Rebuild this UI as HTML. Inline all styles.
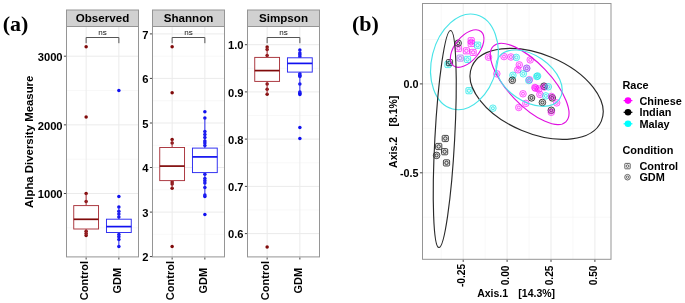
<!DOCTYPE html>
<html><head><meta charset="utf-8"><style>
html,body{margin:0;padding:0;background:#fff;width:685px;height:303px;overflow:hidden}
svg{display:block;will-change:transform}
</style></head><body>
<svg width="685" height="303" viewBox="0 0 685 303">
<rect width="685" height="303" fill="#fff"/>
<text x="2.8" y="31.0" font-family='"Liberation Serif", serif' font-size="22" font-weight="bold" text-anchor="start" fill="#000">(a)</text>
<text x="33.4" y="141.8" font-family='"Liberation Sans", sans-serif' font-size="11.4" font-weight="bold" text-anchor="middle" fill="#000" transform="rotate(-90 33.4 141.8)">Alpha Diversity Measure</text>
<rect x="66.5" y="26.5" width="72.0" height="230.39999999999998" fill="#fff"/>
<line x1="66.5" y1="227.8" x2="138.5" y2="227.8" stroke="#f3f3f3" stroke-width="0.6"/>
<line x1="66.5" y1="159.2" x2="138.5" y2="159.2" stroke="#f3f3f3" stroke-width="0.6"/>
<line x1="66.5" y1="90.5" x2="138.5" y2="90.5" stroke="#f3f3f3" stroke-width="0.6"/>
<line x1="66.5" y1="193.5" x2="138.5" y2="193.5" stroke="#ebebeb" stroke-width="1"/>
<line x1="66.5" y1="124.85" x2="138.5" y2="124.85" stroke="#ebebeb" stroke-width="1"/>
<line x1="66.5" y1="56.2" x2="138.5" y2="56.2" stroke="#ebebeb" stroke-width="1"/>
<line x1="86.13636363636363" y1="26.5" x2="86.13636363636363" y2="256.9" stroke="#ebebeb" stroke-width="1"/>
<line x1="118.86363636363636" y1="26.5" x2="118.86363636363636" y2="256.9" stroke="#ebebeb" stroke-width="1"/>
<line x1="63.9" y1="193.5" x2="66.5" y2="193.5" stroke="#444" stroke-width="1"/>
<text x="62.6" y="198.2" font-family='"Liberation Sans", sans-serif' font-size="11.2" font-weight="bold" text-anchor="end" fill="#000">1000</text>
<line x1="63.9" y1="124.85" x2="66.5" y2="124.85" stroke="#444" stroke-width="1"/>
<text x="62.6" y="129.54999999999998" font-family='"Liberation Sans", sans-serif' font-size="11.2" font-weight="bold" text-anchor="end" fill="#000">2000</text>
<line x1="63.9" y1="56.2" x2="66.5" y2="56.2" stroke="#444" stroke-width="1"/>
<text x="62.6" y="60.900000000000006" font-family='"Liberation Sans", sans-serif' font-size="11.2" font-weight="bold" text-anchor="end" fill="#000">3000</text>
<line x1="86.13636363636363" y1="257.4" x2="86.13636363636363" y2="259.5" stroke="#444" stroke-width="1"/>
<text x="87.93636363636362" y="280.6" font-family='"Liberation Sans", sans-serif' font-size="11" font-weight="bold" text-anchor="middle" fill="#000" transform="rotate(-90 87.93636363636362 280.6)">Control</text>
<line x1="118.86363636363636" y1="257.4" x2="118.86363636363636" y2="259.5" stroke="#444" stroke-width="1"/>
<text x="120.66363636363636" y="280.6" font-family='"Liberation Sans", sans-serif' font-size="11" font-weight="bold" text-anchor="middle" fill="#000" transform="rotate(-90 120.66363636363636 280.6)">GDM</text>
<rect x="152.5" y="26.5" width="72.0" height="230.39999999999998" fill="#fff"/>
<line x1="152.5" y1="234.3" x2="224.5" y2="234.3" stroke="#f3f3f3" stroke-width="0.6"/>
<line x1="152.5" y1="189.8" x2="224.5" y2="189.8" stroke="#f3f3f3" stroke-width="0.6"/>
<line x1="152.5" y1="145.3" x2="224.5" y2="145.3" stroke="#f3f3f3" stroke-width="0.6"/>
<line x1="152.5" y1="100.7" x2="224.5" y2="100.7" stroke="#f3f3f3" stroke-width="0.6"/>
<line x1="152.5" y1="56.2" x2="224.5" y2="56.2" stroke="#f3f3f3" stroke-width="0.6"/>
<line x1="152.5" y1="212.1" x2="224.5" y2="212.1" stroke="#ebebeb" stroke-width="1"/>
<line x1="152.5" y1="167.5" x2="224.5" y2="167.5" stroke="#ebebeb" stroke-width="1"/>
<line x1="152.5" y1="123.0" x2="224.5" y2="123.0" stroke="#ebebeb" stroke-width="1"/>
<line x1="152.5" y1="78.4" x2="224.5" y2="78.4" stroke="#ebebeb" stroke-width="1"/>
<line x1="152.5" y1="33.9" x2="224.5" y2="33.9" stroke="#ebebeb" stroke-width="1"/>
<line x1="172.13636363636363" y1="26.5" x2="172.13636363636363" y2="256.9" stroke="#ebebeb" stroke-width="1"/>
<line x1="204.86363636363637" y1="26.5" x2="204.86363636363637" y2="256.9" stroke="#ebebeb" stroke-width="1"/>
<line x1="149.9" y1="256.6" x2="152.5" y2="256.6" stroke="#444" stroke-width="1"/>
<text x="148.6" y="261.3" font-family='"Liberation Sans", sans-serif' font-size="11.2" font-weight="bold" text-anchor="end" fill="#000">2</text>
<line x1="149.9" y1="212.1" x2="152.5" y2="212.1" stroke="#444" stroke-width="1"/>
<text x="148.6" y="216.79999999999998" font-family='"Liberation Sans", sans-serif' font-size="11.2" font-weight="bold" text-anchor="end" fill="#000">3</text>
<line x1="149.9" y1="167.5" x2="152.5" y2="167.5" stroke="#444" stroke-width="1"/>
<text x="148.6" y="172.2" font-family='"Liberation Sans", sans-serif' font-size="11.2" font-weight="bold" text-anchor="end" fill="#000">4</text>
<line x1="149.9" y1="123.0" x2="152.5" y2="123.0" stroke="#444" stroke-width="1"/>
<text x="148.6" y="127.7" font-family='"Liberation Sans", sans-serif' font-size="11.2" font-weight="bold" text-anchor="end" fill="#000">5</text>
<line x1="149.9" y1="78.4" x2="152.5" y2="78.4" stroke="#444" stroke-width="1"/>
<text x="148.6" y="83.10000000000001" font-family='"Liberation Sans", sans-serif' font-size="11.2" font-weight="bold" text-anchor="end" fill="#000">6</text>
<line x1="149.9" y1="33.9" x2="152.5" y2="33.9" stroke="#444" stroke-width="1"/>
<text x="148.6" y="38.6" font-family='"Liberation Sans", sans-serif' font-size="11.2" font-weight="bold" text-anchor="end" fill="#000">7</text>
<line x1="172.13636363636363" y1="257.4" x2="172.13636363636363" y2="259.5" stroke="#444" stroke-width="1"/>
<text x="173.93636363636364" y="280.6" font-family='"Liberation Sans", sans-serif' font-size="11" font-weight="bold" text-anchor="middle" fill="#000" transform="rotate(-90 173.93636363636364 280.6)">Control</text>
<line x1="204.86363636363637" y1="257.4" x2="204.86363636363637" y2="259.5" stroke="#444" stroke-width="1"/>
<text x="206.66363636363639" y="280.6" font-family='"Liberation Sans", sans-serif' font-size="11" font-weight="bold" text-anchor="middle" fill="#000" transform="rotate(-90 206.66363636363639 280.6)">GDM</text>
<rect x="247.5" y="26.5" width="72.0" height="230.39999999999998" fill="#fff"/>
<line x1="247.5" y1="210.0" x2="319.5" y2="210.0" stroke="#f3f3f3" stroke-width="0.6"/>
<line x1="247.5" y1="162.8" x2="319.5" y2="162.8" stroke="#f3f3f3" stroke-width="0.6"/>
<line x1="247.5" y1="115.5" x2="319.5" y2="115.5" stroke="#f3f3f3" stroke-width="0.6"/>
<line x1="247.5" y1="68.3" x2="319.5" y2="68.3" stroke="#f3f3f3" stroke-width="0.6"/>
<line x1="247.5" y1="233.6" x2="319.5" y2="233.6" stroke="#ebebeb" stroke-width="1"/>
<line x1="247.5" y1="186.4" x2="319.5" y2="186.4" stroke="#ebebeb" stroke-width="1"/>
<line x1="247.5" y1="139.1" x2="319.5" y2="139.1" stroke="#ebebeb" stroke-width="1"/>
<line x1="247.5" y1="91.9" x2="319.5" y2="91.9" stroke="#ebebeb" stroke-width="1"/>
<line x1="247.5" y1="44.7" x2="319.5" y2="44.7" stroke="#ebebeb" stroke-width="1"/>
<line x1="267.1363636363636" y1="26.5" x2="267.1363636363636" y2="256.9" stroke="#ebebeb" stroke-width="1"/>
<line x1="299.8636363636364" y1="26.5" x2="299.8636363636364" y2="256.9" stroke="#ebebeb" stroke-width="1"/>
<line x1="244.9" y1="233.6" x2="247.5" y2="233.6" stroke="#444" stroke-width="1"/>
<text x="243.6" y="238.29999999999998" font-family='"Liberation Sans", sans-serif' font-size="11.2" font-weight="bold" text-anchor="end" fill="#000">0.6</text>
<line x1="244.9" y1="186.4" x2="247.5" y2="186.4" stroke="#444" stroke-width="1"/>
<text x="243.6" y="191.1" font-family='"Liberation Sans", sans-serif' font-size="11.2" font-weight="bold" text-anchor="end" fill="#000">0.7</text>
<line x1="244.9" y1="139.1" x2="247.5" y2="139.1" stroke="#444" stroke-width="1"/>
<text x="243.6" y="143.79999999999998" font-family='"Liberation Sans", sans-serif' font-size="11.2" font-weight="bold" text-anchor="end" fill="#000">0.8</text>
<line x1="244.9" y1="91.9" x2="247.5" y2="91.9" stroke="#444" stroke-width="1"/>
<text x="243.6" y="96.60000000000001" font-family='"Liberation Sans", sans-serif' font-size="11.2" font-weight="bold" text-anchor="end" fill="#000">0.9</text>
<line x1="244.9" y1="44.7" x2="247.5" y2="44.7" stroke="#444" stroke-width="1"/>
<text x="243.6" y="49.400000000000006" font-family='"Liberation Sans", sans-serif' font-size="11.2" font-weight="bold" text-anchor="end" fill="#000">1.0</text>
<line x1="267.1363636363636" y1="257.4" x2="267.1363636363636" y2="259.5" stroke="#444" stroke-width="1"/>
<text x="268.93636363636364" y="280.6" font-family='"Liberation Sans", sans-serif' font-size="11" font-weight="bold" text-anchor="middle" fill="#000" transform="rotate(-90 268.93636363636364 280.6)">Control</text>
<line x1="299.8636363636364" y1="257.4" x2="299.8636363636364" y2="259.5" stroke="#444" stroke-width="1"/>
<text x="301.6636363636364" y="280.6" font-family='"Liberation Sans", sans-serif' font-size="11" font-weight="bold" text-anchor="middle" fill="#000" transform="rotate(-90 301.6636363636364 280.6)">GDM</text>
<circle cx="86.14" cy="46.8" r="1.75" fill="#800a0a"/>
<circle cx="86.14" cy="117" r="1.75" fill="#800a0a"/>
<circle cx="86.14" cy="193.5" r="1.75" fill="#800a0a"/>
<circle cx="86.14" cy="201.4" r="1.75" fill="#800a0a"/>
<circle cx="86.14" cy="231.3" r="1.75" fill="#800a0a"/>
<circle cx="86.14" cy="233.4" r="1.75" fill="#800a0a"/>
<circle cx="86.14" cy="235.6" r="1.75" fill="#800a0a"/>
<line x1="86.13636363636363" y1="193.5" x2="86.13636363636363" y2="205.6" stroke="#a8323a" stroke-width="1"/>
<line x1="86.13636363636363" y1="229.0" x2="86.13636363636363" y2="235.6" stroke="#a8323a" stroke-width="1"/>
<rect x="73.74" y="205.6" width="24.80" height="23.40" fill="#fff" stroke="#a8323a" stroke-width="0.95"/>
<line x1="73.73636363636362" y1="219.3" x2="98.53636363636363" y2="219.3" stroke="#800a0a" stroke-width="1.7"/>
<circle cx="118.86" cy="90.5" r="1.75" fill="#1010f0"/>
<circle cx="118.86" cy="196.6" r="1.75" fill="#1010f0"/>
<circle cx="118.86" cy="207.0" r="1.75" fill="#1010f0"/>
<circle cx="118.86" cy="211.3" r="1.75" fill="#1010f0"/>
<circle cx="118.86" cy="214.0" r="1.75" fill="#1010f0"/>
<circle cx="118.86" cy="217.0" r="1.75" fill="#1010f0"/>
<circle cx="118.86" cy="234.5" r="1.75" fill="#1010f0"/>
<circle cx="118.86" cy="236.7" r="1.75" fill="#1010f0"/>
<circle cx="118.86" cy="239.5" r="1.75" fill="#1010f0"/>
<circle cx="118.86" cy="246.6" r="1.75" fill="#1010f0"/>
<line x1="118.86363636363636" y1="207.0" x2="118.86363636363636" y2="219.2" stroke="#2a2af0" stroke-width="1"/>
<line x1="118.86363636363636" y1="232.5" x2="118.86363636363636" y2="246.6" stroke="#2a2af0" stroke-width="1"/>
<rect x="106.46" y="219.2" width="24.80" height="13.30" fill="#fff" stroke="#2a2af0" stroke-width="0.95"/>
<line x1="106.46363636363635" y1="226.6" x2="131.26363636363635" y2="226.6" stroke="#1010f0" stroke-width="1.7"/>
<polyline points="86.14,43.2 86.14,37.5 118.86,37.5 118.86,43.2" fill="none" stroke="#555" stroke-width="1"/>
<text x="102.5" y="35.1" font-family='"Liberation Sans", sans-serif' font-size="8.1" font-weight="normal" text-anchor="middle" fill="#111">ns</text>
<circle cx="172.14" cy="46.8" r="1.75" fill="#800a0a"/>
<circle cx="172.14" cy="92.7" r="1.75" fill="#800a0a"/>
<circle cx="172.14" cy="139.6" r="1.75" fill="#800a0a"/>
<circle cx="172.14" cy="142.9" r="1.75" fill="#800a0a"/>
<circle cx="172.14" cy="182.0" r="1.75" fill="#800a0a"/>
<circle cx="172.14" cy="184.0" r="1.75" fill="#800a0a"/>
<circle cx="172.14" cy="188.3" r="1.75" fill="#800a0a"/>
<circle cx="172.14" cy="246.4" r="1.75" fill="#800a0a"/>
<line x1="172.13636363636363" y1="139.6" x2="172.13636363636363" y2="147.5" stroke="#a8323a" stroke-width="1"/>
<line x1="172.13636363636363" y1="180.6" x2="172.13636363636363" y2="188.3" stroke="#a8323a" stroke-width="1"/>
<rect x="159.74" y="147.5" width="24.80" height="33.10" fill="#fff" stroke="#a8323a" stroke-width="0.95"/>
<line x1="159.73636363636362" y1="166.1" x2="184.53636363636363" y2="166.1" stroke="#800a0a" stroke-width="1.7"/>
<circle cx="204.86" cy="111.7" r="1.75" fill="#1010f0"/>
<circle cx="204.86" cy="118.1" r="1.75" fill="#1010f0"/>
<circle cx="204.86" cy="131.5" r="1.75" fill="#1010f0"/>
<circle cx="204.86" cy="134.5" r="1.75" fill="#1010f0"/>
<circle cx="204.86" cy="137.5" r="1.75" fill="#1010f0"/>
<circle cx="204.86" cy="141.0" r="1.75" fill="#1010f0"/>
<circle cx="204.86" cy="143.0" r="1.75" fill="#1010f0"/>
<circle cx="204.86" cy="145.5" r="1.75" fill="#1010f0"/>
<circle cx="204.86" cy="174.3" r="1.75" fill="#1010f0"/>
<circle cx="204.86" cy="178.5" r="1.75" fill="#1010f0"/>
<circle cx="204.86" cy="180.8" r="1.75" fill="#1010f0"/>
<circle cx="204.86" cy="183.0" r="1.75" fill="#1010f0"/>
<circle cx="204.86" cy="187.6" r="1.75" fill="#1010f0"/>
<circle cx="204.86" cy="195.0" r="1.75" fill="#1010f0"/>
<circle cx="204.86" cy="196.5" r="1.75" fill="#1010f0"/>
<circle cx="204.86" cy="214.6" r="1.75" fill="#1010f0"/>
<line x1="204.86363636363637" y1="118.1" x2="204.86363636363637" y2="148.1" stroke="#2a2af0" stroke-width="1"/>
<line x1="204.86363636363637" y1="172.6" x2="204.86363636363637" y2="196.5" stroke="#2a2af0" stroke-width="1"/>
<rect x="192.46" y="148.1" width="24.80" height="24.50" fill="#fff" stroke="#2a2af0" stroke-width="0.95"/>
<line x1="192.46363636363637" y1="156.9" x2="217.26363636363638" y2="156.9" stroke="#1010f0" stroke-width="1.7"/>
<polyline points="172.14,43.2 172.14,37.5 204.86,37.5 204.86,43.2" fill="none" stroke="#555" stroke-width="1"/>
<text x="188.5" y="35.1" font-family='"Liberation Sans", sans-serif' font-size="8.1" font-weight="normal" text-anchor="middle" fill="#111">ns</text>
<circle cx="267.14" cy="47.1" r="1.75" fill="#800a0a"/>
<circle cx="267.14" cy="49.6" r="1.75" fill="#800a0a"/>
<circle cx="267.14" cy="55.4" r="1.75" fill="#800a0a"/>
<circle cx="267.14" cy="83.9" r="1.75" fill="#800a0a"/>
<circle cx="267.14" cy="89.3" r="1.75" fill="#800a0a"/>
<circle cx="267.14" cy="94.2" r="1.75" fill="#800a0a"/>
<circle cx="267.14" cy="247.0" r="1.75" fill="#800a0a"/>
<line x1="267.1363636363636" y1="47.1" x2="267.1363636363636" y2="57.4" stroke="#a8323a" stroke-width="1"/>
<line x1="267.1363636363636" y1="81.4" x2="267.1363636363636" y2="94.2" stroke="#a8323a" stroke-width="1"/>
<rect x="254.74" y="57.4" width="24.80" height="24.00" fill="#fff" stroke="#a8323a" stroke-width="0.95"/>
<line x1="254.73636363636362" y1="70.6" x2="279.5363636363636" y2="70.6" stroke="#800a0a" stroke-width="1.7"/>
<circle cx="299.86" cy="49.9" r="1.75" fill="#1010f0"/>
<circle cx="299.86" cy="52.9" r="1.75" fill="#1010f0"/>
<circle cx="299.86" cy="54.8" r="1.75" fill="#1010f0"/>
<circle cx="299.86" cy="56.8" r="1.75" fill="#1010f0"/>
<circle cx="299.86" cy="73.7" r="1.75" fill="#1010f0"/>
<circle cx="299.86" cy="75.2" r="1.75" fill="#1010f0"/>
<circle cx="299.86" cy="76.6" r="1.75" fill="#1010f0"/>
<circle cx="299.86" cy="84" r="1.75" fill="#1010f0"/>
<circle cx="299.86" cy="91.9" r="1.75" fill="#1010f0"/>
<circle cx="299.86" cy="93.2" r="1.75" fill="#1010f0"/>
<circle cx="299.86" cy="94.5" r="1.75" fill="#1010f0"/>
<circle cx="299.86" cy="127.4" r="1.75" fill="#1010f0"/>
<circle cx="299.86" cy="138.6" r="1.75" fill="#1010f0"/>
<line x1="299.8636363636364" y1="49.9" x2="299.8636363636364" y2="57.8" stroke="#2a2af0" stroke-width="1"/>
<line x1="299.8636363636364" y1="72.1" x2="299.8636363636364" y2="93.0" stroke="#2a2af0" stroke-width="1"/>
<rect x="287.46" y="57.8" width="24.80" height="14.30" fill="#fff" stroke="#2a2af0" stroke-width="0.95"/>
<line x1="287.4636363636364" y1="63.4" x2="312.26363636363635" y2="63.4" stroke="#1010f0" stroke-width="1.7"/>
<polyline points="267.14,43.2 267.14,37.5 299.86,37.5 299.86,43.2" fill="none" stroke="#555" stroke-width="1"/>
<text x="283.5" y="35.1" font-family='"Liberation Sans", sans-serif' font-size="8.1" font-weight="normal" text-anchor="middle" fill="#111">ns</text>
<rect x="66.5" y="10.0" width="72.0" height="16.5" fill="#d1d1d1" stroke="#959595" stroke-width="1"/>
<rect x="66.5" y="26.5" width="72.0" height="230.39999999999998" fill="none" stroke="#959595" stroke-width="1"/>
<text x="102.5" y="22.1" font-family='"Liberation Sans", sans-serif' font-size="11.6" font-weight="bold" text-anchor="middle" fill="#000">Observed</text>
<rect x="152.5" y="10.0" width="72.0" height="16.5" fill="#d1d1d1" stroke="#959595" stroke-width="1"/>
<rect x="152.5" y="26.5" width="72.0" height="230.39999999999998" fill="none" stroke="#959595" stroke-width="1"/>
<text x="188.5" y="22.1" font-family='"Liberation Sans", sans-serif' font-size="11.6" font-weight="bold" text-anchor="middle" fill="#000">Shannon</text>
<rect x="247.5" y="10.0" width="72.0" height="16.5" fill="#d1d1d1" stroke="#959595" stroke-width="1"/>
<rect x="247.5" y="26.5" width="72.0" height="230.39999999999998" fill="none" stroke="#959595" stroke-width="1"/>
<text x="283.5" y="22.1" font-family='"Liberation Sans", sans-serif' font-size="11.6" font-weight="bold" text-anchor="middle" fill="#000">Simpson</text>
<text x="352.0" y="31.0" font-family='"Liberation Serif", serif' font-size="22" font-weight="bold" text-anchor="start" fill="#000">(b)</text>
<rect x="422.5" y="3.5" width="188.5" height="255.8" fill="#fff"/>
<line x1="441.25" y1="3.5" x2="441.25" y2="259.3" stroke="#f3f3f3" stroke-width="0.6"/>
<line x1="485.15000000000003" y1="3.5" x2="485.15000000000003" y2="259.3" stroke="#f3f3f3" stroke-width="0.6"/>
<line x1="529.0500000000001" y1="3.5" x2="529.0500000000001" y2="259.3" stroke="#f3f3f3" stroke-width="0.6"/>
<line x1="572.95" y1="3.5" x2="572.95" y2="259.3" stroke="#f3f3f3" stroke-width="0.6"/>
<line x1="422.5" y1="39.45" x2="611.0" y2="39.45" stroke="#f3f3f3" stroke-width="0.6"/>
<line x1="422.5" y1="128.35000000000002" x2="611.0" y2="128.35000000000002" stroke="#f3f3f3" stroke-width="0.6"/>
<line x1="422.5" y1="217.25000000000003" x2="611.0" y2="217.25000000000003" stroke="#f3f3f3" stroke-width="0.6"/>
<line x1="463.20000000000005" y1="3.5" x2="463.20000000000005" y2="259.3" stroke="#ebebeb" stroke-width="1"/>
<line x1="507.1" y1="3.5" x2="507.1" y2="259.3" stroke="#ebebeb" stroke-width="1"/>
<line x1="551.0" y1="3.5" x2="551.0" y2="259.3" stroke="#ebebeb" stroke-width="1"/>
<line x1="594.9" y1="3.5" x2="594.9" y2="259.3" stroke="#ebebeb" stroke-width="1"/>
<line x1="422.5" y1="83.9" x2="611.0" y2="83.9" stroke="#ebebeb" stroke-width="1"/>
<line x1="422.5" y1="172.8" x2="611.0" y2="172.8" stroke="#ebebeb" stroke-width="1"/>
<g stroke="#ff00ff" stroke-opacity="0.65" fill="none" stroke-width="1"><rect x="468.1" y="37.6" width="6.2" height="6.2" rx="1.2" fill="#ff00ff" fill-opacity="0.12"/><circle cx="471.2" cy="40.7" r="1.7"/></g>
<g stroke="#ff00ff" stroke-opacity="0.65" fill="none" stroke-width="1"><rect x="468.1" y="40.4" width="6.2" height="6.2" rx="1.2" fill="#ff00ff" fill-opacity="0.12"/><circle cx="471.2" cy="43.5" r="1.7"/></g>
<g stroke="#ff00ff" stroke-opacity="0.65" fill="none" stroke-width="1"><rect x="455.4" y="45.4" width="6.2" height="6.2" rx="1.2" fill="#ff00ff" fill-opacity="0.12"/><circle cx="458.5" cy="48.5" r="1.7"/></g>
<g stroke="#ff00ff" stroke-opacity="0.65" fill="none" stroke-width="1"><rect x="463.3" y="47.7" width="6.2" height="6.2" rx="1.2" fill="#ff00ff" fill-opacity="0.12"/><circle cx="466.4" cy="50.8" r="1.7"/></g>
<g stroke="#ff00ff" stroke-opacity="0.65" fill="none" stroke-width="1"><rect x="470.0" y="49.3" width="6.2" height="6.2" rx="1.2" fill="#ff00ff" fill-opacity="0.12"/><circle cx="473.1" cy="52.4" r="1.7"/></g>
<g stroke="#a060f0" stroke-opacity="0.65" fill="none" stroke-width="1"><rect x="457.1" y="55.0" width="6.2" height="6.2" rx="1.2" fill="#a060f0" fill-opacity="0.12"/><circle cx="460.2" cy="58.1" r="1.7"/></g>
<g stroke="#00e5e5" stroke-opacity="0.65" fill="none" stroke-width="1"><rect x="474.5" y="42.1" width="6.2" height="6.2" rx="1.2" fill="#00e5e5" fill-opacity="0.12"/><circle cx="477.6" cy="45.2" r="1.7"/></g>
<g stroke="#00e5e5" stroke-opacity="0.65" fill="none" stroke-width="1"><rect x="464.4" y="56.3" width="6.2" height="6.2" rx="1.2" fill="#00e5e5" fill-opacity="0.12"/><circle cx="467.5" cy="59.4" r="1.7"/></g>
<g stroke="#00e5e5" stroke-opacity="0.65" fill="none" stroke-width="1"><rect x="444.9" y="61.4" width="6.2" height="6.2" rx="1.2" fill="#00e5e5" fill-opacity="0.12"/><circle cx="448.0" cy="64.5" r="1.7"/></g>
<g stroke="#00e5e5" stroke-opacity="0.65" fill="none" stroke-width="1"><rect x="465.9" y="87.6" width="6.2" height="6.2" rx="1.2" fill="#00e5e5" fill-opacity="0.12"/><circle cx="469.0" cy="90.7" r="1.7"/></g>
<g stroke="#111" stroke-opacity="0.75" fill="none" stroke-width="1"><rect x="446.4" y="59.5" width="6.2" height="6.2" rx="1.2" fill="#111" fill-opacity="0.12"/><circle cx="449.5" cy="62.6" r="1.7"/></g>
<g stroke="#111" stroke-opacity="0.75" fill="none" stroke-width="1"><rect x="442.2" y="135.4" width="6.2" height="6.2" rx="1.2" fill="#111" fill-opacity="0.12"/><circle cx="445.3" cy="138.5" r="1.7"/></g>
<g stroke="#111" stroke-opacity="0.75" fill="none" stroke-width="1"><rect x="435.6" y="143.4" width="6.2" height="6.2" rx="1.2" fill="#111" fill-opacity="0.12"/><circle cx="438.7" cy="146.5" r="1.7"/></g>
<g stroke="#111" stroke-opacity="0.75" fill="none" stroke-width="1"><rect x="441.5" y="148.6" width="6.2" height="6.2" rx="1.2" fill="#111" fill-opacity="0.12"/><circle cx="444.6" cy="151.7" r="1.7"/></g>
<g stroke="#111" stroke-opacity="0.75" fill="none" stroke-width="1"><rect x="443.4" y="159.8" width="6.2" height="6.2" rx="1.2" fill="#111" fill-opacity="0.12"/><circle cx="446.5" cy="162.9" r="1.7"/></g>
<g stroke="#111" stroke-opacity="0.75" fill="none" stroke-width="1"><circle cx="458.2" cy="43.2" r="3.3" fill="#111" fill-opacity="0.12"/><circle cx="458.2" cy="43.2" r="1.5"/></g>
<g stroke="#111" stroke-opacity="0.75" fill="none" stroke-width="1"><circle cx="436.6" cy="155.4" r="3.3" fill="#111" fill-opacity="0.12"/><circle cx="436.6" cy="155.4" r="1.5"/></g>
<g stroke="#00e5e5" stroke-opacity="0.6" fill="none" stroke-width="1"><circle cx="492.9" cy="108.2" r="3.3" fill="#00e5e5" fill-opacity="0.12"/><circle cx="492.9" cy="108.2" r="1.5"/></g>
<g stroke="#ff00ff" stroke-opacity="0.6" fill="none" stroke-width="1"><circle cx="488.5" cy="57.2" r="3.3" fill="#ff00ff" fill-opacity="0.12"/><circle cx="488.5" cy="57.2" r="1.5"/></g>
<g stroke="#ff00ff" stroke-opacity="0.6" fill="none" stroke-width="1"><circle cx="496.8" cy="73.8" r="3.3" fill="#ff00ff" fill-opacity="0.12"/><circle cx="496.8" cy="73.8" r="1.5"/></g>
<g stroke="#ff00ff" stroke-opacity="0.6" fill="none" stroke-width="1"><circle cx="504.0" cy="56.6" r="3.3" fill="#ff00ff" fill-opacity="0.12"/><circle cx="504.0" cy="56.6" r="1.5"/></g>
<g stroke="#ff00ff" stroke-opacity="0.6" fill="none" stroke-width="1"><circle cx="510.9" cy="57.0" r="3.3" fill="#ff00ff" fill-opacity="0.12"/><circle cx="510.9" cy="57.0" r="1.5"/></g>
<g stroke="#00e5e5" stroke-opacity="0.6" fill="none" stroke-width="1"><circle cx="516.3" cy="57.4" r="3.3" fill="#00e5e5" fill-opacity="0.12"/><circle cx="516.3" cy="57.4" r="1.5"/></g>
<g stroke="#ff00ff" stroke-opacity="0.6" fill="none" stroke-width="1"><circle cx="530.2" cy="59.9" r="3.3" fill="#ff00ff" fill-opacity="0.12"/><circle cx="530.2" cy="59.9" r="1.5"/></g>
<g stroke="#ff00ff" stroke-opacity="0.6" fill="none" stroke-width="1"><circle cx="519.3" cy="64.9" r="3.3" fill="#ff00ff" fill-opacity="0.12"/><circle cx="519.3" cy="64.9" r="1.5"/></g>
<g stroke="#ff00ff" stroke-opacity="0.6" fill="none" stroke-width="1"><circle cx="517.8" cy="69.8" r="3.3" fill="#ff00ff" fill-opacity="0.12"/><circle cx="517.8" cy="69.8" r="1.5"/></g>
<g stroke="#00e5e5" stroke-opacity="0.6" fill="none" stroke-width="1"><circle cx="526.7" cy="68.3" r="3.3" fill="#00e5e5" fill-opacity="0.12"/><circle cx="526.7" cy="68.3" r="1.5"/></g>
<g stroke="#ff00ff" stroke-opacity="0.6" fill="none" stroke-width="1"><circle cx="526.7" cy="68.3" r="3.3" fill="#ff00ff" fill-opacity="0.12"/><circle cx="526.7" cy="68.3" r="1.5"/></g>
<g stroke="#00e5e5" stroke-opacity="0.6" fill="none" stroke-width="1"><circle cx="523.3" cy="73.8" r="3.3" fill="#00e5e5" fill-opacity="0.12"/><circle cx="523.3" cy="73.8" r="1.5"/></g>
<g stroke="#00e5e5" stroke-opacity="0.6" fill="none" stroke-width="1"><circle cx="512.9" cy="75.3" r="3.3" fill="#00e5e5" fill-opacity="0.12"/><circle cx="512.9" cy="75.3" r="1.5"/></g>
<g stroke="#111" stroke-opacity="0.75" fill="none" stroke-width="1"><circle cx="512.3" cy="80.3" r="3.3" fill="#111" fill-opacity="0.12"/><circle cx="512.3" cy="80.3" r="1.5"/></g>
<g stroke="#ff00ff" stroke-opacity="0.6" fill="none" stroke-width="1"><circle cx="529.4" cy="79.8" r="3.3" fill="#ff00ff" fill-opacity="0.12"/><circle cx="529.4" cy="79.8" r="1.5"/></g>
<g stroke="#00e5e5" stroke-opacity="0.6" fill="none" stroke-width="1"><circle cx="528.8" cy="80.5" r="3.3" fill="#00e5e5" fill-opacity="0.12"/><circle cx="528.8" cy="80.5" r="1.5"/></g>
<g stroke="#00e5e5" stroke-opacity="0.6" fill="none" stroke-width="1"><circle cx="536.8" cy="76.5" r="3.3" fill="#00e5e5" fill-opacity="0.12"/><circle cx="536.8" cy="76.5" r="1.5"/></g>
<g stroke="#00e5e5" stroke-opacity="0.6" fill="none" stroke-width="1"><circle cx="537.6" cy="76.0" r="3.3" fill="#00e5e5" fill-opacity="0.12"/><circle cx="537.6" cy="76.0" r="1.5"/></g>
<g stroke="#111" stroke-opacity="0.75" fill="none" stroke-width="1"><circle cx="544.0" cy="86.2" r="3.3" fill="#111" fill-opacity="0.12"/><circle cx="544.0" cy="86.2" r="1.5"/></g>
<g stroke="#ff00ff" stroke-opacity="0.6" fill="none" stroke-width="1"><circle cx="544.5" cy="87.0" r="3.3" fill="#ff00ff" fill-opacity="0.12"/><circle cx="544.5" cy="87.0" r="1.5"/></g>
<g stroke="#ff00ff" stroke-opacity="0.6" fill="none" stroke-width="1"><circle cx="534.9" cy="87.5" r="3.3" fill="#ff00ff" fill-opacity="0.12"/><circle cx="534.9" cy="87.5" r="1.5"/></g>
<g stroke="#ff00ff" stroke-opacity="0.6" fill="none" stroke-width="1"><circle cx="535.5" cy="88.2" r="3.3" fill="#ff00ff" fill-opacity="0.12"/><circle cx="535.5" cy="88.2" r="1.5"/></g>
<g stroke="#ff00ff" stroke-opacity="0.6" fill="none" stroke-width="1"><circle cx="538.8" cy="89.0" r="3.3" fill="#ff00ff" fill-opacity="0.12"/><circle cx="538.8" cy="89.0" r="1.5"/></g>
<g stroke="#00e5e5" stroke-opacity="0.6" fill="none" stroke-width="1"><circle cx="548.3" cy="86.8" r="3.3" fill="#00e5e5" fill-opacity="0.12"/><circle cx="548.3" cy="86.8" r="1.5"/></g>
<g stroke="#ff00ff" stroke-opacity="0.6" fill="none" stroke-width="1"><circle cx="523.0" cy="93.8" r="3.3" fill="#ff00ff" fill-opacity="0.12"/><circle cx="523.0" cy="93.8" r="1.5"/></g>
<g stroke="#111" stroke-opacity="0.75" fill="none" stroke-width="1"><circle cx="531.5" cy="97.9" r="3.3" fill="#111" fill-opacity="0.12"/><circle cx="531.5" cy="97.9" r="1.5"/></g>
<g stroke="#ff00ff" stroke-opacity="0.6" fill="none" stroke-width="1"><circle cx="539.9" cy="94.4" r="3.3" fill="#ff00ff" fill-opacity="0.12"/><circle cx="539.9" cy="94.4" r="1.5"/></g>
<g stroke="#00e5e5" stroke-opacity="0.6" fill="none" stroke-width="1"><circle cx="545.8" cy="95.9" r="3.3" fill="#00e5e5" fill-opacity="0.12"/><circle cx="545.8" cy="95.9" r="1.5"/></g>
<g stroke="#111" stroke-opacity="0.75" fill="none" stroke-width="1"><circle cx="552.3" cy="97.9" r="3.3" fill="#111" fill-opacity="0.12"/><circle cx="552.3" cy="97.9" r="1.5"/></g>
<g stroke="#ff00ff" stroke-opacity="0.6" fill="none" stroke-width="1"><circle cx="551.5" cy="96.5" r="3.3" fill="#ff00ff" fill-opacity="0.12"/><circle cx="551.5" cy="96.5" r="1.5"/></g>
<g stroke="#111" stroke-opacity="0.75" fill="none" stroke-width="1"><circle cx="542.4" cy="102.5" r="3.3" fill="#111" fill-opacity="0.12"/><circle cx="542.4" cy="102.5" r="1.5"/></g>
<g stroke="#ff00ff" stroke-opacity="0.6" fill="none" stroke-width="1"><circle cx="556.7" cy="102.9" r="3.3" fill="#ff00ff" fill-opacity="0.12"/><circle cx="556.7" cy="102.9" r="1.5"/></g>
<g stroke="#ff00ff" stroke-opacity="0.6" fill="none" stroke-width="1"><circle cx="525.8" cy="103.4" r="3.3" fill="#ff00ff" fill-opacity="0.12"/><circle cx="525.8" cy="103.4" r="1.5"/></g>
<g stroke="#ff00ff" stroke-opacity="0.6" fill="none" stroke-width="1"><circle cx="518.8" cy="107.5" r="3.3" fill="#ff00ff" fill-opacity="0.12"/><circle cx="518.8" cy="107.5" r="1.5"/></g>
<g stroke="#111" stroke-opacity="0.75" fill="none" stroke-width="1"><circle cx="551.3" cy="110.3" r="3.3" fill="#111" fill-opacity="0.12"/><circle cx="551.3" cy="110.3" r="1.5"/></g>
<g stroke="#ff00ff" stroke-opacity="0.6" fill="none" stroke-width="1"><circle cx="551.3" cy="112.3" r="3.3" fill="#ff00ff" fill-opacity="0.12"/><circle cx="551.3" cy="112.3" r="1.5"/></g>
<ellipse cx="536.60" cy="93.87" rx="39.45" ry="70.24" transform="rotate(112.82 536.60 93.87)" fill="none" stroke="#2a2a2a" stroke-width="1.15"/>
<ellipse cx="529.63" cy="83.96" rx="21.09" ry="52.41" transform="rotate(136.27 529.63 83.96)" fill="none" stroke="#e010e0" stroke-width="1.15"/>
<ellipse cx="529.08" cy="78.14" rx="22.88" ry="36.94" transform="rotate(124.49 529.08 78.14)" fill="none" stroke="#48e4e8" stroke-width="1.15"/>
<ellipse cx="464.46" cy="61.86" rx="32.75" ry="48.57" transform="rotate(-165.89 464.46 61.86)" fill="none" stroke="#48e4e8" stroke-width="1.15"/>
<ellipse cx="467.16" cy="48.56" rx="22.00" ry="12.19" transform="rotate(-50.88 467.16 48.56)" fill="none" stroke="#e010e0" stroke-width="1.15"/>
<ellipse cx="444.75" cy="139.00" rx="108.70" ry="9.90" transform="rotate(93.09 444.75 139.00)" fill="none" stroke="#2a2a2a" stroke-width="1.15"/>
<rect x="422.5" y="3.5" width="188.5" height="255.8" fill="none" stroke="#959595" stroke-width="1"/>
<line x1="419.9" y1="83.9" x2="422.5" y2="83.9" stroke="#444" stroke-width="1"/>
<text x="418.6" y="87.80000000000001" font-family='"Liberation Sans", sans-serif' font-size="10.8" font-weight="bold" text-anchor="end" fill="#000">0.0</text>
<line x1="419.9" y1="172.8" x2="422.5" y2="172.8" stroke="#444" stroke-width="1"/>
<text x="418.6" y="176.70000000000002" font-family='"Liberation Sans", sans-serif' font-size="10.8" font-weight="bold" text-anchor="end" fill="#000">-0.5</text>
<line x1="463.20000000000005" y1="259.8" x2="463.20000000000005" y2="261.90000000000003" stroke="#444" stroke-width="1"/>
<text x="464.90000000000003" y="275.4" font-family='"Liberation Sans", sans-serif' font-size="10.2" font-weight="bold" text-anchor="middle" fill="#000" transform="rotate(-90 464.90000000000003 275.4)">-0.25</text>
<line x1="507.1" y1="259.8" x2="507.1" y2="261.90000000000003" stroke="#444" stroke-width="1"/>
<text x="508.8" y="275.4" font-family='"Liberation Sans", sans-serif' font-size="10.2" font-weight="bold" text-anchor="middle" fill="#000" transform="rotate(-90 508.8 275.4)">0.00</text>
<line x1="551.0" y1="259.8" x2="551.0" y2="261.90000000000003" stroke="#444" stroke-width="1"/>
<text x="552.7" y="275.4" font-family='"Liberation Sans", sans-serif' font-size="10.2" font-weight="bold" text-anchor="middle" fill="#000" transform="rotate(-90 552.7 275.4)">0.25</text>
<line x1="594.9" y1="259.8" x2="594.9" y2="261.90000000000003" stroke="#444" stroke-width="1"/>
<text x="596.6" y="275.4" font-family='"Liberation Sans", sans-serif' font-size="10.2" font-weight="bold" text-anchor="middle" fill="#000" transform="rotate(-90 596.6 275.4)">0.50</text>
<text x="477.2" y="297.3" font-family='"Liberation Sans", sans-serif' font-size="10.5" font-weight="bold" text-anchor="start" fill="#000">Axis.1</text>
<text x="518.3" y="297.3" font-family='"Liberation Sans", sans-serif' font-size="10.5" font-weight="bold" text-anchor="start" fill="#000">[14.3%]</text>
<text x="396.9" y="167.9" font-family='"Liberation Sans", sans-serif' font-size="10.5" font-weight="bold" text-anchor="start" fill="#000" transform="rotate(-90 396.9 167.9)">Axis.2</text>
<text x="396.9" y="126.6" font-family='"Liberation Sans", sans-serif' font-size="10.5" font-weight="bold" text-anchor="start" fill="#000" transform="rotate(-90 396.9 126.6)">[8.1%]</text>
<text x="622.5" y="88.6" font-family='"Liberation Sans", sans-serif' font-size="10.9" font-weight="bold" text-anchor="start" fill="#000">Race</text>
<circle cx="628.0" cy="100.6" r="3.3" fill="#ff00ff"/>
<line x1="623.6" y1="100.6" x2="632.4" y2="100.6" stroke="#ff00ff" stroke-width="1.2"/>
<text x="639.4" y="104.6" font-family='"Liberation Sans", sans-serif' font-size="10.9" font-weight="bold" text-anchor="start" fill="#000">Chinese</text>
<circle cx="628.0" cy="112.3" r="3.3" fill="#000"/>
<line x1="623.6" y1="112.3" x2="632.4" y2="112.3" stroke="#000" stroke-width="1.2"/>
<text x="639.4" y="116.3" font-family='"Liberation Sans", sans-serif' font-size="10.9" font-weight="bold" text-anchor="start" fill="#000">Indian</text>
<circle cx="628.0" cy="123.8" r="3.3" fill="#00ffff"/>
<line x1="623.6" y1="123.8" x2="632.4" y2="123.8" stroke="#00ffff" stroke-width="1.2"/>
<text x="639.4" y="127.8" font-family='"Liberation Sans", sans-serif' font-size="10.9" font-weight="bold" text-anchor="start" fill="#000">Malay</text>
<text x="622.5" y="154.3" font-family='"Liberation Sans", sans-serif' font-size="10.9" font-weight="bold" text-anchor="start" fill="#000">Condition</text>
<rect x="624.8" y="163.4" width="5.4" height="5.4" rx="0.6" fill="none" stroke="#555" stroke-width="0.9"/>
<circle cx="627.5" cy="166.1" r="1.3" fill="none" stroke="#555" stroke-width="0.9"/>
<circle cx="627.5" cy="177.2" r="2.8" fill="none" stroke="#555" stroke-width="0.9"/>
<circle cx="627.5" cy="177.2" r="1.2" fill="none" stroke="#555" stroke-width="0.9"/>
<text x="639.4" y="169.7" font-family='"Liberation Sans", sans-serif' font-size="10.9" font-weight="bold" text-anchor="start" fill="#000">Control</text>
<text x="639.4" y="181.2" font-family='"Liberation Sans", sans-serif' font-size="10.9" font-weight="bold" text-anchor="start" fill="#000">GDM</text>
</svg>
</body></html>
